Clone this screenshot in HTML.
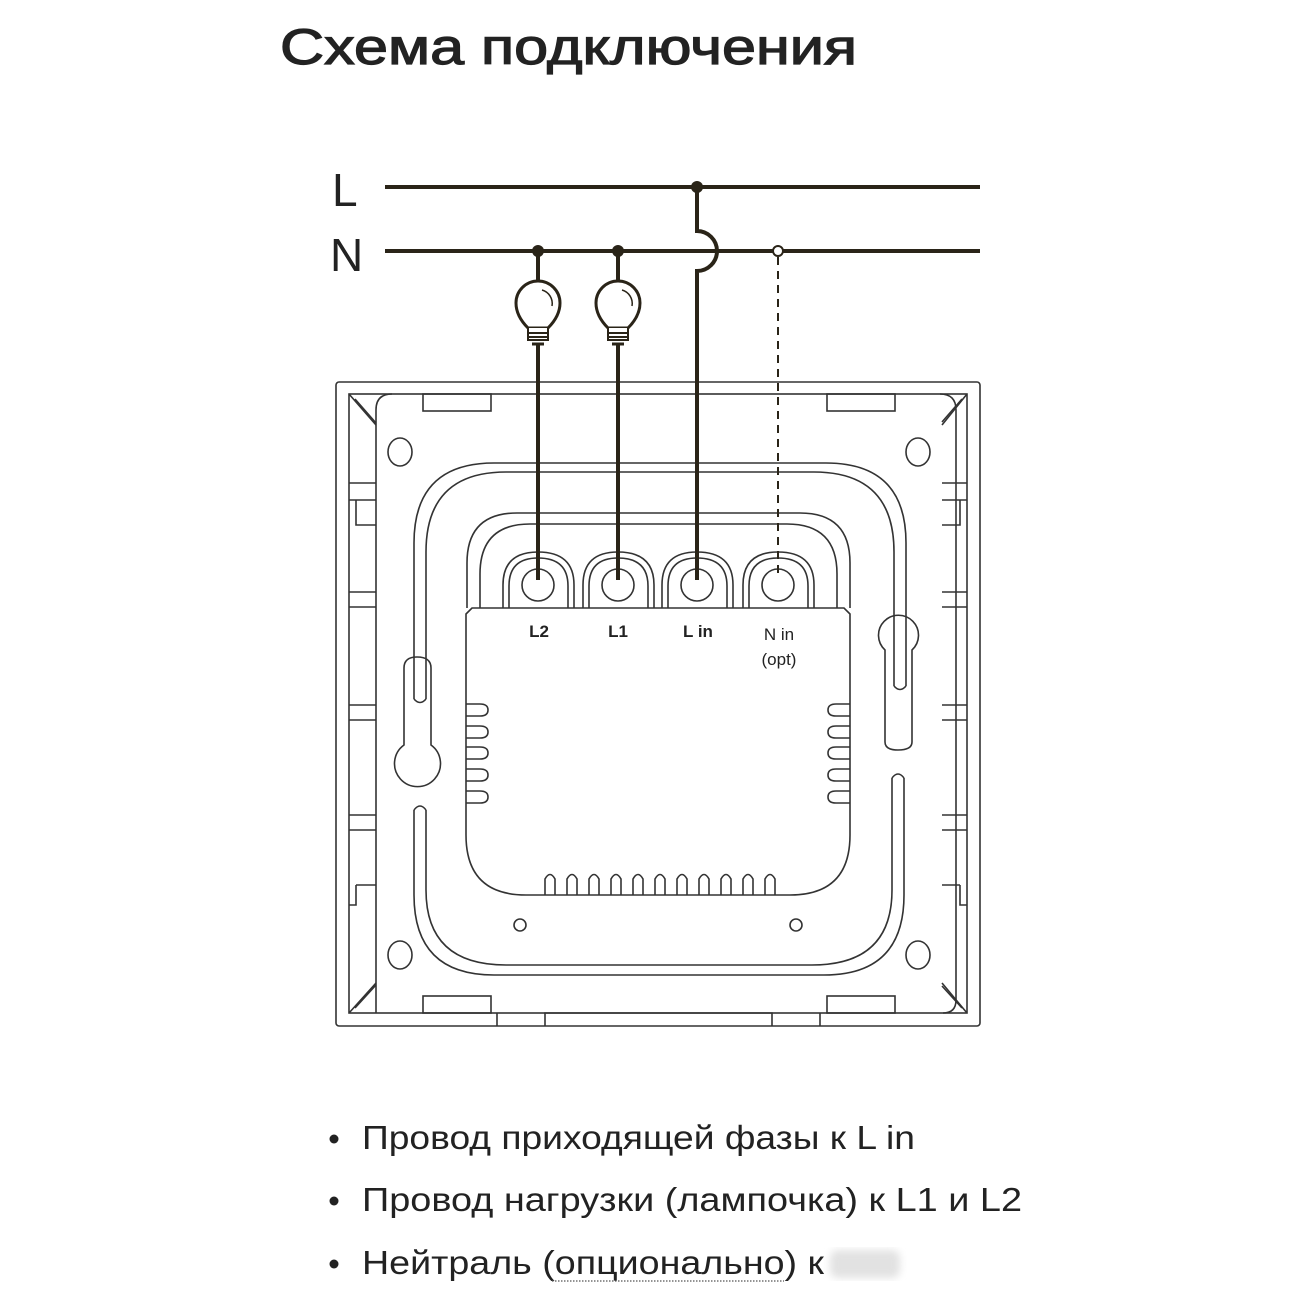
<!DOCTYPE html>
<html><head><meta charset="utf-8"><style>
html,body{margin:0;padding:0;background:#fff;}
svg{display:block}
</style></head><body>
<svg width="1300" height="1300" viewBox="0 0 1300 1300" xmlns="http://www.w3.org/2000/svg">
<defs><filter id="bl"><feGaussianBlur stdDeviation="4"/></filter></defs>
<rect width="1300" height="1300" fill="#fff"/>
<text x="280" y="64" font-family="Liberation Sans, sans-serif" font-size="50" fill="#222" stroke="#222" stroke-width="1.2" textLength="577" lengthAdjust="spacingAndGlyphs">Схема подключения</text>
<text x="332" y="206" font-family="Liberation Sans, sans-serif" font-size="46" fill="#222">L</text>
<text x="330" y="271" font-family="Liberation Sans, sans-serif" font-size="46" fill="#222">N</text>

<g fill="none" stroke="#333" stroke-width="1.6">
<rect x="336" y="382" width="644" height="644" rx="3"/>
<rect x="349" y="394" width="618" height="619"/>
<path d="M376 1013 V410 Q376 394 392 394 M940 394 Q956 394 956 410 V1000 Q956 1013 943 1013"/>
<path d="M349 394 L376 425 M967 394 L942 425 M349 1013 L376 983 M967 1013 L942 983"/>
<path d="M355 399 L376 423 M962 399 L942 422 M355 1008 L376 985 M962 1008 L942 986"/>
<rect x="423" y="394" width="68" height="17"/>
<rect x="827" y="394" width="68" height="17"/>
<rect x="423" y="996" width="68" height="17"/>
<rect x="827" y="996" width="68" height="17"/>
<path d="M497 1013 V1026 M545 1026 V1013 H772 V1026 M820 1013 V1026"/>
<ellipse cx="400" cy="452" rx="12" ry="14"/>
<ellipse cx="918" cy="452" rx="12" ry="14"/>
<ellipse cx="400" cy="955" rx="12" ry="14"/>
<ellipse cx="918" cy="955" rx="12" ry="14"/>
<circle cx="520" cy="925" r="6"/>
<circle cx="796" cy="925" r="6"/>
<path d="M349 483 H376 M349 500 H376 M356 500 V525 H376 M349 592 H376 M349 607 H376 M349 705 H376 M349 720 H376 M349 815 H376 M349 830 H376 M356 885 H376 M356 885 V905 H349"/>
<path d="M967 483 H942 M967 500 H942 M960 500 V525 H942 M967 592 H942 M967 607 H942 M967 705 H942 M967 720 H942 M967 815 H942 M967 830 H942 M960 885 H942 M960 885 V905 H967"/>
<path d="M414 699 V543 Q414 463 494 463 H826 Q906 463 906 543 V686"/>
<path d="M426 699 V552 Q426 472 506 472 H814 Q894 472 894 552 V686"/>
<path d="M414 699 Q420 706 426 699"/>
<path d="M894 686 Q900 693 906 686"/>
<path d="M414 810 V895 Q414 975 494 975 H824 Q904 975 904 895 V778"/>
<path d="M426 810 V890 Q426 965 506 965 H812 Q892 965 892 890 V778"/>
<path d="M414 810 Q420 802 426 810 M892 778 Q898 770 904 778"/>
<path d="M467 608 V563 Q467 513 517 513 H800 Q850 513 850 563 V608"/>
<path d="M480 608 V574 Q480 524 530 524 H787 Q837 524 837 574 V608"/>
<g id="t">
<path d="M503 608 V585 Q503 552 538 552 Q574 552 574 585 V608"/>
<path d="M509 608 V586 Q509 558 538 558 Q568 558 568 586 V608"/>
<circle cx="538" cy="585" r="16"/>
</g>
<use href="#t" x="80"/>
<use href="#t" x="159"/>
<use href="#t" x="240"/>
<path d="M466 614 L472 608 H844 L850 614 V835 Q850 895 790 895 H526 Q466 895 466 835 Z" fill="#fff"/>
<path d="M466 704 H480 Q488 704 488 710 Q488 716 480 716 H466 M466 726 H480 Q488 726 488 732 Q488 738 480 738 H466 M466 747 H480 Q488 747 488 753 Q488 759 480 759 H466 M466 769 H480 Q488 769 488 775 Q488 781 480 781 H466 M466 791 H480 Q488 791 488 797 Q488 803 480 803 H466"/>
<path d="M850 704 H836 Q828 704 828 710 Q828 716 836 716 H850 M850 726 H836 Q828 726 828 732 Q828 738 836 738 H850 M850 747 H836 Q828 747 828 753 Q828 759 836 759 H850 M850 769 H836 Q828 769 828 775 Q828 781 836 781 H850 M850 791 H836 Q828 791 828 797 Q828 803 836 803 H850"/>
<path d="M545 895 V879 Q550 870 555 879 V895 M567 895 V879 Q572 870 577 879 V895 M589 895 V879 Q594 870 599 879 V895 M611 895 V879 Q616 870 621 879 V895 M633 895 V879 Q638 870 643 879 V895 M655 895 V879 Q660 870 665 879 V895 M677 895 V879 Q682 870 687 879 V895 M699 895 V879 Q704 870 709 879 V895 M721 895 V879 Q726 870 731 879 V895 M743 895 V879 Q748 870 753 879 V895 M765 895 V879 Q770 870 775 879 V895"/>
<path d="M404 745 V668 Q404 657 417 657 Q431 657 431 668 V745 A23 23 0 1 1 404 745 Z"/>
<path d="M885 650 A20 20 0 1 1 912 650 V742 Q912 750 898 750 Q885 750 885 742 Z"/>
</g>
<g font-family="Liberation Sans, sans-serif" font-size="17" fill="#222" text-anchor="middle" font-weight="bold">
<text x="539" y="637">L2</text>
<text x="618" y="637">L1</text>
<text x="698" y="637">L in</text>
<text x="779" y="640" font-weight="normal">N in</text>
<text x="779" y="665" font-weight="normal">(opt)</text>
</g>

<g stroke="#2a2418" stroke-width="4" fill="none">
<line x1="385" y1="187" x2="980" y2="187"/>
<line x1="385" y1="251" x2="980" y2="251"/>
<path d="M697 187 V231 A20 20 0 0 1 697 271 V580"/>
<line x1="538" y1="251" x2="538" y2="283"/>
<line x1="618" y1="251" x2="618" y2="283"/>
<line x1="538" y1="345" x2="538" y2="580"/>
<line x1="618" y1="345" x2="618" y2="580"/>
</g>
<circle cx="697" cy="187" r="6" fill="#2a2418"/>
<circle cx="538" cy="251" r="6" fill="#2a2418"/>
<circle cx="618" cy="251" r="6" fill="#2a2418"/>
<line x1="778" y1="257" x2="778" y2="578" stroke="#2a2418" stroke-width="2" stroke-dasharray="8,6"/>
<circle cx="778" cy="251" r="5" fill="#fff" stroke="#2a2418" stroke-width="2"/>
<g id="b" fill="#fff" stroke="#2a2418" stroke-width="3">
<path d="M528 328 Q516 316 516 303 A22 22 0 1 1 560 303 Q560 316 548 328 Z"/>
<path d="M528 328 V340 H548 V328 M528 333 H548 M529 337 H547" stroke-width="2"/>
<path d="M532 344 H544" stroke-width="3"/>
<path d="M542 290 A14 14 0 0 1 552 306" stroke-width="1.5" fill="none"/>
</g>
<use href="#b" x="80"/>

<g font-family="Liberation Sans, sans-serif" font-size="33" fill="#222">
<circle cx="334" cy="1139" r="4.5"/>
<circle cx="334" cy="1201" r="4.5"/>
<circle cx="334" cy="1264" r="4.5"/>
<text x="362" y="1149" textLength="553" lengthAdjust="spacingAndGlyphs">Провод приходящей фазы к L in</text>
<text x="362" y="1211" textLength="660" lengthAdjust="spacingAndGlyphs">Провод нагрузки (лампочка) к L1 и L2</text>
<text x="362" y="1274" textLength="462" lengthAdjust="spacingAndGlyphs">Нейтраль (опционально) к</text>
</g>
<line x1="552" y1="1281" x2="784" y2="1281" stroke="#555" stroke-width="1.2" stroke-dasharray="1.5,1.5"/>
<rect x="830" y="1250" width="70" height="28" fill="#e2e2e2" rx="8" filter="url(#bl)"/>
</svg>
</body></html>
